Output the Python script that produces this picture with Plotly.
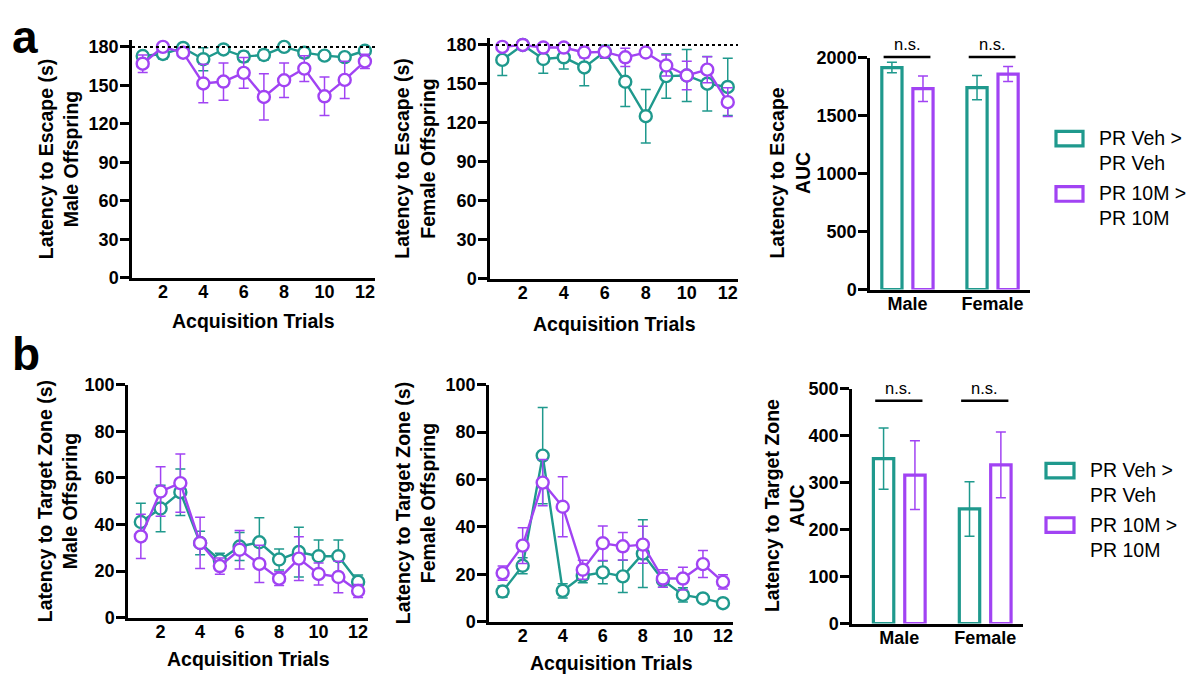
import plotly.graph_objects as go

W, H = 1188, 687
TEAL = '#1f998d'
PURPLE = '#a143f3'
FONT = 'Liberation Sans, Arial, sans-serif'

# ---------------- data ----------------
trials = list(range(1, 13))
trial_ticks = [2, 4, 6, 8, 10, 12]

# (a) latency to escape (s)
esc_male_veh = [172.9, 174.5, 179.2, 170.4, 178, 172.4, 173.7, 180, 175.5, 173.2, 172, 177]
esc_male_veh_err = [3, 4, 2, 9, 2, 4, 4, 1, 4, 2, 3, 2]
esc_male_10m = [166.9, 180, 175.5, 151.5, 153, 159.8, 141, 154, 163.1, 141.5, 154.3, 168.7]
esc_male_10m_err = [6.8, 1, 3, 15, 14.5, 12, 18, 13.5, 10, 15, 14.5, 5.5]
esc_female_veh = [168.5, 180, 169.2, 170.5, 162.7, 174.7, 151.7, 125.2, 156, 156.5, 150.2, 147.7]
esc_female_veh_err = [12, 1, 11, 9, 14, 5, 19, 20.6, 17, 20, 21, 22]
esc_female_10m = [178.5, 180, 178, 178, 174.2, 174.7, 170.5, 174.2, 164.2, 156.5, 161, 136]
esc_female_10m_err = [2, 1, 2, 2, 4, 3, 7, 3, 8, 11, 10, 11]
escape_ceiling = 180

# (b) latency to target zone (s)
tz_male_veh = [41.1, 46.9, 53.9, 32.1, 24.7, 30.6, 32.4, 25, 28.2, 26.4, 26.4, 15.4]
tz_male_veh_err = [8, 10, 10, 5, 3, 6, 10.5, 4.5, 10.7, 7, 7, 3]
tz_male_10m = [34.9, 54.2, 57.8, 32.1, 22.2, 29.2, 23.1, 16.8, 25.4, 18.8, 17.5, 11.5]
tz_male_10m_err = [9.5, 10.6, 12.5, 11, 3.5, 8.3, 8, 3, 9.4, 4.7, 6.8, 2.8]
tz_female_veh = [12.7, 23.6, 70.1, 13, 19.4, 20.8, 19.1, 28.7, 17.5, 11.3, 9.8, 7.8]
tz_female_veh_err = [2.4, 3.4, 20.3, 3, 3, 4.8, 6.8, 14.3, 3, 3, 1.5, 1]
tz_female_10m = [20.5, 32.1, 58.7, 48.5, 21.9, 33.1, 31.8, 32.5, 18.2, 18.2, 24.3, 16.8]
tz_female_10m_err = [3, 7.5, 9.8, 12.7, 4, 7.3, 5.8, 7.8, 3.7, 4.8, 5.7, 3]

# AUC
sexes = ['Male', 'Female']
auc_esc_veh = [1914, 1741]
auc_esc_veh_err = [45, 105]
auc_esc_10m = [1732, 1858]
auc_esc_10m_err = [110, 65]
auc_tz_veh = [351, 244]
auc_tz_veh_err = [65, 58]
auc_tz_10m = [316, 338]
auc_tz_10m_err = [73, 70]

group_names = ['PR Veh ><br>PR Veh', 'PR 10M ><br>PR 10M']

# ---------------- layout geometry (pixels) ----------------
# name: (x_left_px, x_right_px, y_bottom_px, y_top_px, xrange, yrange)
panels = {
    '1': (132, 375, 276, 276 - 185 * 238 / 180, [0.47, 12.5], [0, 185]),
    '2': (490, 738, 277, 277 - 185 * 241 / 180, [0.40, 12.5], [0, 185]),
    '3': (870, 1030, 288, 49, [-0.44, 1.44], [0, 2000]),
    '4': (128, 368, 626, 386, [0.35, 12.5], [0, 100]),
    '5': (489, 733, 630, 386, [0.32, 12.5], [0, 100]),
    '6': (852, 1023, 632, 390, [-0.55, 1.44], [0, 500]),
}


def to_px(p, xv, yv):
    xl, xr, yb, yt, xrg, yrg = panels[p]
    xp = xl + (xv - xrg[0]) / (xrg[1] - xrg[0]) * (xr - xl)
    yp = yb - (yv - yrg[0]) / (yrg[1] - yrg[0]) * (yb - yt)
    return xp, yp


def px(x):
    return x / W


def py(y):
    return 1 - y / H


fig = go.Figure()


def axref(p, kind):
    return kind if p == '1' else kind + p


def line_trace(p, y, err, color):
    fig.add_trace(go.Scatter(
        x=trials, y=y, mode='lines+markers',
        xaxis=axref(p, 'x'), yaxis=axref(p, 'y'),
        line=dict(color=color, width=2.4),
        marker=dict(symbol='circle', size=12, color='white',
                    line=dict(color=color, width=2.4)),
        error_y=dict(type='data', array=err, visible=True, color=color,
                     thickness=1.5, width=5),
        showlegend=False, cliponaxis=False))


def bar_trace(p, y, err, color):
    fig.add_trace(go.Bar(
        x=sexes, y=y, xaxis=axref(p, 'x'), yaxis=axref(p, 'y'),
        marker=dict(color='white', line=dict(color=color, width=3.2)),
        error_y=dict(type='data', array=err, visible=True, color=color,
                     thickness=1.5, width=5),
        showlegend=False, cliponaxis=False))


line_trace('1', esc_male_veh, esc_male_veh_err, TEAL)
line_trace('1', esc_male_10m, esc_male_10m_err, PURPLE)
line_trace('2', esc_female_veh, esc_female_veh_err, TEAL)
line_trace('2', esc_female_10m, esc_female_10m_err, PURPLE)
bar_trace('3', auc_esc_veh, auc_esc_veh_err, TEAL)
bar_trace('3', auc_esc_10m, auc_esc_10m_err, PURPLE)
line_trace('4', tz_male_veh, tz_male_veh_err, TEAL)
line_trace('4', tz_male_10m, tz_male_10m_err, PURPLE)
line_trace('5', tz_female_veh, tz_female_veh_err, TEAL)
line_trace('5', tz_female_10m, tz_female_10m_err, PURPLE)
bar_trace('6', auc_tz_veh, auc_tz_veh_err, TEAL)
bar_trace('6', auc_tz_10m, auc_tz_10m_err, PURPLE)

tickfont = dict(family=FONT, size=18, color='black', weight='bold')
layout = dict(
    width=W, height=H, margin=dict(l=0, r=0, t=0, b=0),
    paper_bgcolor='white', plot_bgcolor='white',
    barmode='group', bargap=0.27, bargroupgap=0.35,
    font=dict(family=FONT, color='black'),
)
ytick = {'1': 30, '2': 30, '3': 500, '4': 20, '5': 20, '6': 100}
for p, (xl, xr, yb, yt, xrg, yrg) in panels.items():
    xa = 'xaxis' if p == '1' else 'xaxis' + p
    ya = 'yaxis' if p == '1' else 'yaxis' + p
    is_bar = p in ('3', '6')
    xd = dict(domain=[px(xl), px(xr)], range=xrg, anchor=axref(p, 'y'),
              showline=True, linewidth=2.5, linecolor='black', showgrid=False,
              zeroline=False, ticks='', tickfont=tickfont, fixedrange=True,
              ticklabelstandoff=-4)
    if is_bar:
        xd.update(type='category')
    else:
        xd.update(tickmode='array', tickvals=trial_ticks)
    layout[xa] = xd
    layout[ya] = dict(domain=[py(yb), py(yt)], range=yrg, anchor=axref(p, 'x'),
                      showline=True, linewidth=2.5, linecolor='black', showgrid=False,
                      zeroline=False, ticks='outside', ticklen=9, tickwidth=2.5,
                      tickcolor='black', dtick=ytick[p], tick0=0, tickfont=tickfont,
                      fixedrange=True, ticklabelstandoff=-2)
fig.update_layout(**layout)

# dotted ceiling lines (180 s)
for p in ('1', '2'):
    fig.add_shape(type='line', xref=axref(p, 'x') + ' domain', yref=axref(p, 'y'),
                  x0=0, x1=1, y0=escape_ceiling, y1=escape_ceiling,
                  line=dict(color='black', width=2, dash='dot'))

ann = []
title_font = dict(family=FONT, size=19.5, color='black', weight='bold')
# x-axis titles
for p, yoff in (('1', 44), ('2', 46), ('4', 42), ('5', 43)):
    xl, xr, yb, yt, xrg, yrg = panels[p]
    ann.append(dict(text='Acquisition Trials', x=px((xl + xr) / 2), y=py(yb + yoff),
                    xref='paper', yref='paper', showarrow=False, font=title_font,
                    xanchor='center', yanchor='middle'))
# y-axis titles
ytitles = [
    ('1', 'Latency to Escape (s)<br>Male Offspring', 58),
    ('2', 'Latency to Escape (s)<br>Female Offspring', 415),
    ('3', 'Latency to Escape<br>AUC', 790),
    ('4', 'Latency to Target Zone (s)<br>Male Offspring', 57),
    ('5', 'Latency to Target Zone (s)<br>Female Offspring', 415),
    ('6', 'Latency to Target Zone<br>AUC', 784),
]
for p, t, xc in ytitles:
    xl, xr, yb, yt, xrg, yrg = panels[p]
    ann.append(dict(text=t, x=px(xc), y=py((yb + yt) / 2), xref='paper', yref='paper',
                    showarrow=False, textangle=-90, font=title_font,
                    xanchor='center', yanchor='middle'))

# panel letters
letter_font = dict(family=FONT, size=46, color='black', weight='bold')
ann.append(dict(text='a', x=px(25), y=py(0), xref='paper', yref='paper', showarrow=False,
                font=letter_font, xanchor='center', yanchor='top', borderpad=0))
ann.append(dict(text='b', x=px(26), y=py(354), xref='paper', yref='paper', showarrow=False,
                font=letter_font, xanchor='center', yanchor='middle'))

# significance brackets
ns_font = dict(family=FONT, size=16.5, color='black')
for p, yval in (('3', 2005), ('6', 474)):
    for i in range(len(sexes)):
        x0, yp = to_px(p, i - 0.28, yval)
        x1, _ = to_px(p, i + 0.27, yval)
        fig.add_shape(type='line', xref='paper', yref='paper', x0=px(x0), x1=px(x1),
                      y0=py(yp), y1=py(yp), line=dict(color='black', width=2.5))
        ann.append(dict(text='n.s.', x=px((x0 + x1) / 2), y=py(yp - 2), xref='paper',
                        yref='paper', showarrow=False, font=ns_font,
                        xanchor='center', yanchor='bottom'))

# legends
leg_font = dict(family=FONT, size=19.5, color='black')
legends = [
    (1056, 1083, [(125, 140, TEAL, 145), (182, 197, PURPLE, 201.5)], 1097),
    (1046, 1074, [(467, 482, TEAL, 486.5), (523, 538, PURPLE, 543.5)], 1088),
]
for bx0, bx1, entries, tx in legends:
    for (by0, by1, col, tyc), name in zip(entries, group_names):
        fig.add_shape(type='rect', xref='paper', yref='paper', x0=px(bx0), x1=px(bx1),
                      y0=py(by1), y1=py(by0), line=dict(color=col, width=3.2),
                      fillcolor='white')
        ann.append(dict(text=name, x=px(tx), y=py(tyc), xref='paper', yref='paper',
                        showarrow=False, font=leg_font, xanchor='left', yanchor='middle',
                        align='left'))

fig.update_layout(annotations=ann)
fig.write_html('out.html')
